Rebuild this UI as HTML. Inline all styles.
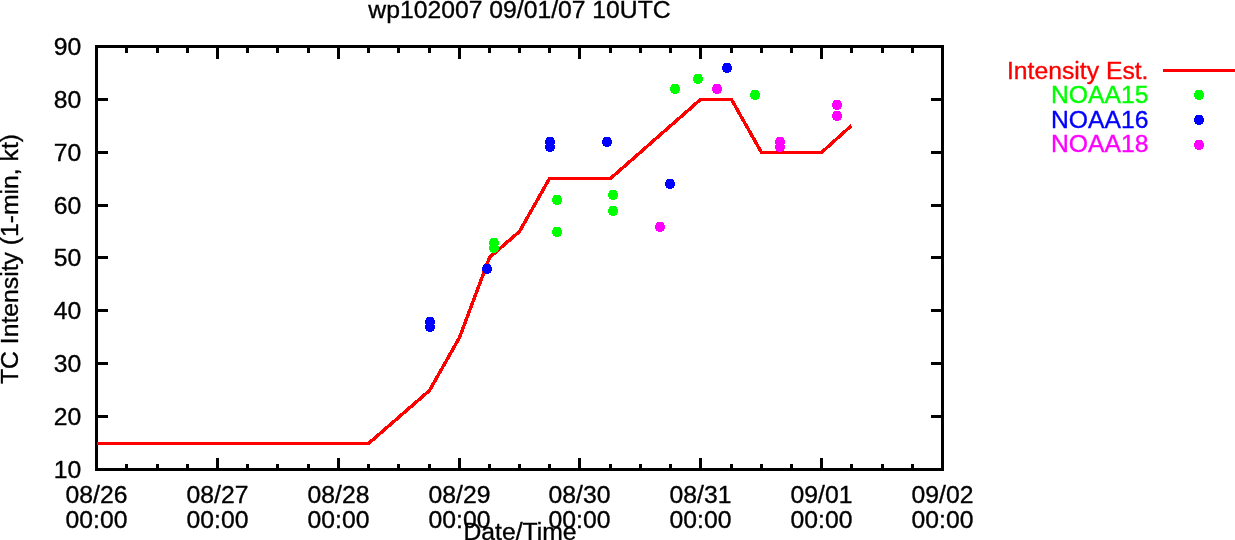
<!DOCTYPE html>
<html><head><meta charset="utf-8"><title>wp102007 09/01/07 10UTC</title>
<style>html,body{margin:0;padding:0;background:#fff;}svg{display:block;}text{font-family:"Liberation Sans",Arial,Helvetica,sans-serif;font-size:24.3px;}</style></head><body>
<svg width="1235" height="540" viewBox="0 0 1235 540">
<rect x="0" y="0" width="1235" height="540" fill="#ffffff"/>
<g stroke="#000" stroke-width="3" fill="none" shape-rendering="crispEdges">
<line x1="96.5" y1="469.5" x2="96.5" y2="458.0"/>
<line x1="96.5" y1="46.5" x2="96.5" y2="59.0"/>
<line x1="126.5" y1="469.5" x2="126.5" y2="464.0"/>
<line x1="126.5" y1="46.5" x2="126.5" y2="53.0"/>
<line x1="157.5" y1="469.5" x2="157.5" y2="464.0"/>
<line x1="157.5" y1="46.5" x2="157.5" y2="53.0"/>
<line x1="187.5" y1="469.5" x2="187.5" y2="464.0"/>
<line x1="187.5" y1="46.5" x2="187.5" y2="53.0"/>
<line x1="217.5" y1="469.5" x2="217.5" y2="458.0"/>
<line x1="217.5" y1="46.5" x2="217.5" y2="59.0"/>
<line x1="247.5" y1="469.5" x2="247.5" y2="464.0"/>
<line x1="247.5" y1="46.5" x2="247.5" y2="53.0"/>
<line x1="277.5" y1="469.5" x2="277.5" y2="464.0"/>
<line x1="277.5" y1="46.5" x2="277.5" y2="53.0"/>
<line x1="308.5" y1="469.5" x2="308.5" y2="464.0"/>
<line x1="308.5" y1="46.5" x2="308.5" y2="53.0"/>
<line x1="338.5" y1="469.5" x2="338.5" y2="458.0"/>
<line x1="338.5" y1="46.5" x2="338.5" y2="59.0"/>
<line x1="368.5" y1="469.5" x2="368.5" y2="464.0"/>
<line x1="368.5" y1="46.5" x2="368.5" y2="53.0"/>
<line x1="398.5" y1="469.5" x2="398.5" y2="464.0"/>
<line x1="398.5" y1="46.5" x2="398.5" y2="53.0"/>
<line x1="429.5" y1="469.5" x2="429.5" y2="464.0"/>
<line x1="429.5" y1="46.5" x2="429.5" y2="53.0"/>
<line x1="459.5" y1="469.5" x2="459.5" y2="458.0"/>
<line x1="459.5" y1="46.5" x2="459.5" y2="59.0"/>
<line x1="489.5" y1="469.5" x2="489.5" y2="464.0"/>
<line x1="489.5" y1="46.5" x2="489.5" y2="53.0"/>
<line x1="519.5" y1="469.5" x2="519.5" y2="464.0"/>
<line x1="519.5" y1="46.5" x2="519.5" y2="53.0"/>
<line x1="549.5" y1="469.5" x2="549.5" y2="464.0"/>
<line x1="549.5" y1="46.5" x2="549.5" y2="53.0"/>
<line x1="579.5" y1="469.5" x2="579.5" y2="458.0"/>
<line x1="579.5" y1="46.5" x2="579.5" y2="59.0"/>
<line x1="610.5" y1="469.5" x2="610.5" y2="464.0"/>
<line x1="610.5" y1="46.5" x2="610.5" y2="53.0"/>
<line x1="640.5" y1="469.5" x2="640.5" y2="464.0"/>
<line x1="640.5" y1="46.5" x2="640.5" y2="53.0"/>
<line x1="670.5" y1="469.5" x2="670.5" y2="464.0"/>
<line x1="670.5" y1="46.5" x2="670.5" y2="53.0"/>
<line x1="700.5" y1="469.5" x2="700.5" y2="458.0"/>
<line x1="700.5" y1="46.5" x2="700.5" y2="59.0"/>
<line x1="731.5" y1="469.5" x2="731.5" y2="464.0"/>
<line x1="731.5" y1="46.5" x2="731.5" y2="53.0"/>
<line x1="761.5" y1="469.5" x2="761.5" y2="464.0"/>
<line x1="761.5" y1="46.5" x2="761.5" y2="53.0"/>
<line x1="791.5" y1="469.5" x2="791.5" y2="464.0"/>
<line x1="791.5" y1="46.5" x2="791.5" y2="53.0"/>
<line x1="821.5" y1="469.5" x2="821.5" y2="458.0"/>
<line x1="821.5" y1="46.5" x2="821.5" y2="59.0"/>
<line x1="851.5" y1="469.5" x2="851.5" y2="464.0"/>
<line x1="851.5" y1="46.5" x2="851.5" y2="53.0"/>
<line x1="882.5" y1="469.5" x2="882.5" y2="464.0"/>
<line x1="882.5" y1="46.5" x2="882.5" y2="53.0"/>
<line x1="912.5" y1="469.5" x2="912.5" y2="464.0"/>
<line x1="912.5" y1="46.5" x2="912.5" y2="53.0"/>
<line x1="942.5" y1="469.5" x2="942.5" y2="458.0"/>
<line x1="942.5" y1="46.5" x2="942.5" y2="59.0"/>
<line x1="96.5" y1="469.5" x2="108.0" y2="469.5"/>
<line x1="942.5" y1="469.5" x2="931.0" y2="469.5"/>
<line x1="96.5" y1="416.5" x2="108.0" y2="416.5"/>
<line x1="942.5" y1="416.5" x2="931.0" y2="416.5"/>
<line x1="96.5" y1="363.5" x2="108.0" y2="363.5"/>
<line x1="942.5" y1="363.5" x2="931.0" y2="363.5"/>
<line x1="96.5" y1="310.5" x2="108.0" y2="310.5"/>
<line x1="942.5" y1="310.5" x2="931.0" y2="310.5"/>
<line x1="96.5" y1="257.5" x2="108.0" y2="257.5"/>
<line x1="942.5" y1="257.5" x2="931.0" y2="257.5"/>
<line x1="96.5" y1="205.5" x2="108.0" y2="205.5"/>
<line x1="942.5" y1="205.5" x2="931.0" y2="205.5"/>
<line x1="96.5" y1="152.5" x2="108.0" y2="152.5"/>
<line x1="942.5" y1="152.5" x2="931.0" y2="152.5"/>
<line x1="96.5" y1="99.5" x2="108.0" y2="99.5"/>
<line x1="942.5" y1="99.5" x2="931.0" y2="99.5"/>
<line x1="96.5" y1="46.5" x2="108.0" y2="46.5"/>
<line x1="942.5" y1="46.5" x2="931.0" y2="46.5"/>
<rect x="96.5" y="46.5" width="846.0" height="423.0"/>
</g>
<g fill="#000" text-anchor="end">
<text transform="translate(81.3,477.8) scale(1.018,1)" text-anchor="end" fill="#000" stroke="#000" stroke-width="0.35">10</text>
<text transform="translate(81.3,424.8) scale(1.018,1)" text-anchor="end" fill="#000" stroke="#000" stroke-width="0.35">20</text>
<text transform="translate(81.3,371.8) scale(1.018,1)" text-anchor="end" fill="#000" stroke="#000" stroke-width="0.35">30</text>
<text transform="translate(81.3,318.8) scale(1.018,1)" text-anchor="end" fill="#000" stroke="#000" stroke-width="0.35">40</text>
<text transform="translate(81.3,265.8) scale(1.018,1)" text-anchor="end" fill="#000" stroke="#000" stroke-width="0.35">50</text>
<text transform="translate(81.3,213.8) scale(1.018,1)" text-anchor="end" fill="#000" stroke="#000" stroke-width="0.35">60</text>
<text transform="translate(81.3,160.8) scale(1.018,1)" text-anchor="end" fill="#000" stroke="#000" stroke-width="0.35">70</text>
<text transform="translate(81.3,107.8) scale(1.018,1)" text-anchor="end" fill="#000" stroke="#000" stroke-width="0.35">80</text>
<text transform="translate(81.3,54.8) scale(1.018,1)" text-anchor="end" fill="#000" stroke="#000" stroke-width="0.35">90</text>
</g>
<g fill="#000" text-anchor="middle">
<text transform="translate(96.5,502.7) scale(1.018,1)" text-anchor="middle" fill="#000" stroke="#000" stroke-width="0.35">08/26</text>
<text transform="translate(96.5,527.7) scale(1.018,1)" text-anchor="middle" fill="#000" stroke="#000" stroke-width="0.35">00:00</text>
<text transform="translate(217.5,502.7) scale(1.018,1)" text-anchor="middle" fill="#000" stroke="#000" stroke-width="0.35">08/27</text>
<text transform="translate(217.5,527.7) scale(1.018,1)" text-anchor="middle" fill="#000" stroke="#000" stroke-width="0.35">00:00</text>
<text transform="translate(338.5,502.7) scale(1.018,1)" text-anchor="middle" fill="#000" stroke="#000" stroke-width="0.35">08/28</text>
<text transform="translate(338.5,527.7) scale(1.018,1)" text-anchor="middle" fill="#000" stroke="#000" stroke-width="0.35">00:00</text>
<text transform="translate(459.5,502.7) scale(1.018,1)" text-anchor="middle" fill="#000" stroke="#000" stroke-width="0.35">08/29</text>
<text transform="translate(459.5,527.7) scale(1.018,1)" text-anchor="middle" fill="#000" stroke="#000" stroke-width="0.35">00:00</text>
<text transform="translate(579.5,502.7) scale(1.018,1)" text-anchor="middle" fill="#000" stroke="#000" stroke-width="0.35">08/30</text>
<text transform="translate(579.5,527.7) scale(1.018,1)" text-anchor="middle" fill="#000" stroke="#000" stroke-width="0.35">00:00</text>
<text transform="translate(700.5,502.7) scale(1.018,1)" text-anchor="middle" fill="#000" stroke="#000" stroke-width="0.35">08/31</text>
<text transform="translate(700.5,527.7) scale(1.018,1)" text-anchor="middle" fill="#000" stroke="#000" stroke-width="0.35">00:00</text>
<text transform="translate(821.5,502.7) scale(1.018,1)" text-anchor="middle" fill="#000" stroke="#000" stroke-width="0.35">09/01</text>
<text transform="translate(821.5,527.7) scale(1.018,1)" text-anchor="middle" fill="#000" stroke="#000" stroke-width="0.35">00:00</text>
<text transform="translate(942.5,502.7) scale(1.018,1)" text-anchor="middle" fill="#000" stroke="#000" stroke-width="0.35">09/02</text>
<text transform="translate(942.5,527.7) scale(1.018,1)" text-anchor="middle" fill="#000" stroke="#000" stroke-width="0.35">00:00</text>
<text transform="translate(520,540) scale(1.018,1)" text-anchor="middle" fill="#000" stroke="#000" stroke-width="0.35">Date/Time</text>
<text transform="translate(519.5,18) scale(1.018,1)" text-anchor="middle" fill="#000" stroke="#000" stroke-width="0.35">wp102007 09/01/07 10UTC</text>
<text transform="translate(18,259) rotate(-90) scale(1.018,1)" text-anchor="middle" fill="#000" stroke="#000" stroke-width="0.35">TC Intensity (1-min, kt)</text>
</g>
<polyline points="96.5,443.5 368.5,443.5 429.5,390.5 459.5,337.5 489.5,257.5 519.5,231.5 549.5,178.5 610.5,178.5 700.5,99.5 731.5,99.5 761.5,152.5 821.5,152.5 851.5,125.5" fill="none" stroke="#ff0000" stroke-width="3.4" stroke-linejoin="bevel" shape-rendering="crispEdges"/>
<g fill="#00ff00" shape-rendering="crispEdges">
<path d="M491,238h6v1h1v2h1v4h-1v2h-2v1h-4v-1h-2v-2h-1v-4h1v-2h1z"/>
<path d="M491,243h6v1h1v2h1v4h-1v2h-2v1h-4v-1h-2v-2h-1v-4h1v-2h1z"/>
<path d="M554,195h6v1h1v2h1v4h-1v2h-2v1h-4v-1h-2v-2h-1v-4h1v-2h1z"/>
<path d="M554,227h6v1h1v2h1v4h-1v2h-2v1h-4v-1h-2v-2h-1v-4h1v-2h1z"/>
<path d="M610,190h6v1h1v2h1v4h-1v2h-2v1h-4v-1h-2v-2h-1v-4h1v-2h1z"/>
<path d="M610,206h6v1h1v2h1v4h-1v2h-2v1h-4v-1h-2v-2h-1v-4h1v-2h1z"/>
<path d="M672,84h6v1h1v2h1v4h-1v2h-2v1h-4v-1h-2v-2h-1v-4h1v-2h1z"/>
<path d="M695,74h6v1h1v2h1v4h-1v2h-2v1h-4v-1h-2v-2h-1v-4h1v-2h1z"/>
<path d="M752,90h6v1h1v2h1v4h-1v2h-2v1h-4v-1h-2v-2h-1v-4h1v-2h1z"/>
</g>
<g fill="#0000ff" shape-rendering="crispEdges">
<path d="M427,317h6v1h1v2h1v4h-1v2h-2v1h-4v-1h-2v-2h-1v-4h1v-2h1z"/>
<path d="M427,322h6v1h1v2h1v4h-1v2h-2v1h-4v-1h-2v-2h-1v-4h1v-2h1z"/>
<path d="M484,264h6v1h1v2h1v4h-1v2h-2v1h-4v-1h-2v-2h-1v-4h1v-2h1z"/>
<path d="M547,137h6v1h1v2h1v4h-1v2h-2v1h-4v-1h-2v-2h-1v-4h1v-2h1z"/>
<path d="M547,142h6v1h1v2h1v4h-1v2h-2v1h-4v-1h-2v-2h-1v-4h1v-2h1z"/>
<path d="M604,137h6v1h1v2h1v4h-1v2h-2v1h-4v-1h-2v-2h-1v-4h1v-2h1z"/>
<path d="M667,179h6v1h1v2h1v4h-1v2h-2v1h-4v-1h-2v-2h-1v-4h1v-2h1z"/>
<path d="M724,63h6v1h1v2h1v4h-1v2h-2v1h-4v-1h-2v-2h-1v-4h1v-2h1z"/>
</g>
<g fill="#ff00ff" shape-rendering="crispEdges">
<path d="M657,222h6v1h1v2h1v4h-1v2h-2v1h-4v-1h-2v-2h-1v-4h1v-2h1z"/>
<path d="M714,84h6v1h1v2h1v4h-1v2h-2v1h-4v-1h-2v-2h-1v-4h1v-2h1z"/>
<path d="M777,137h6v1h1v2h1v4h-1v2h-2v1h-4v-1h-2v-2h-1v-4h1v-2h1z"/>
<path d="M777,142h6v1h1v2h1v4h-1v2h-2v1h-4v-1h-2v-2h-1v-4h1v-2h1z"/>
<path d="M834,100h6v1h1v2h1v4h-1v2h-2v1h-4v-1h-2v-2h-1v-4h1v-2h1z"/>
<path d="M834,111h6v1h1v2h1v4h-1v2h-2v1h-4v-1h-2v-2h-1v-4h1v-2h1z"/>
</g>
<text transform="translate(1148.5,78.8) scale(1.018,1)" text-anchor="end" fill="#ff0000" stroke="#ff0000" stroke-width="0.35">Intensity Est.</text>
<line x1="1163" y1="70.5" x2="1235" y2="70.5" stroke="#ff0000" stroke-width="3" shape-rendering="crispEdges"/>
<text transform="translate(1148.5,103.3) scale(1.018,1)" text-anchor="end" fill="#00ff00" stroke="#00ff00" stroke-width="0.35">NOAA15</text>
<g fill="#00ff00" shape-rendering="crispEdges"><path d="M1196,90h6v1h1v2h1v4h-1v2h-2v1h-4v-1h-2v-2h-1v-4h1v-2h1z"/></g>
<text transform="translate(1148.5,127.8) scale(1.018,1)" text-anchor="end" fill="#0000ff" stroke="#0000ff" stroke-width="0.35">NOAA16</text>
<g fill="#0000ff" shape-rendering="crispEdges"><path d="M1196,115h6v1h1v2h1v4h-1v2h-2v1h-4v-1h-2v-2h-1v-4h1v-2h1z"/></g>
<text transform="translate(1148.5,152.2) scale(1.018,1)" text-anchor="end" fill="#ff00ff" stroke="#ff00ff" stroke-width="0.35">NOAA18</text>
<g fill="#ff00ff" shape-rendering="crispEdges"><path d="M1196,140h6v1h1v2h1v4h-1v2h-2v1h-4v-1h-2v-2h-1v-4h1v-2h1z"/></g>
</svg></body></html>
